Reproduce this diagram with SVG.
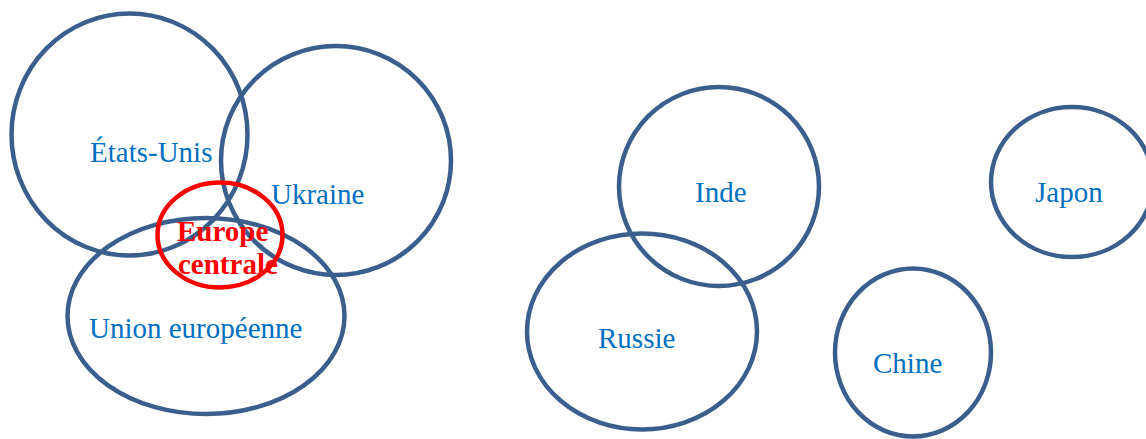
<svg xmlns="http://www.w3.org/2000/svg" width="1146" height="439" viewBox="0 0 1146 439">
<style>
.c{fill:none;stroke:#3a5f8c;stroke-width:4.5}
.r{fill:none;stroke:#ff0000;stroke-width:4.5}
.t{font-family:"Liberation Serif",serif;font-size:29px;fill:#0070c0}
.b{font-family:"Liberation Serif",serif;font-size:29px;font-weight:bold;fill:#ff0000}
</style>
<rect width="1146" height="439" fill="#ffffff"/>
<g id="etats-unis"><ellipse class="c" cx="129.5" cy="134.5" rx="118" ry="121"/><text class="t" x="90" y="162">États-Unis</text></g>
<g id="ukraine"><ellipse class="c" cx="336" cy="160.5" rx="115" ry="114.5"/><text class="t" x="271" y="204">Ukraine</text></g>
<g id="union-europeenne"><ellipse class="c" cx="206" cy="316" rx="138.5" ry="98"/><text class="t" x="89" y="338">Union européenne</text></g>
<g id="europe-centrale"><ellipse class="r" cx="220" cy="235" rx="62.5" ry="52.5"/><text class="b" x="177" y="241">Europe</text><text class="b" x="178" y="274">centrale</text></g>
<g id="inde"><ellipse class="c" cx="719" cy="186.5" rx="100" ry="99.5"/><text class="t" x="695" y="202">Inde</text></g>
<g id="russie"><ellipse class="c" cx="642" cy="331.5" rx="115" ry="98"/><text class="t" x="598" y="348">Russie</text></g>
<g id="japon"><ellipse class="c" cx="1072" cy="182" rx="81" ry="75"/><text class="t" x="1035" y="202">Japon</text></g>
<g id="chine"><ellipse class="c" cx="913" cy="352.5" rx="78" ry="84"/><text class="t" x="873" y="373">Chine</text></g>
<g id="connectors"/>
</svg>
